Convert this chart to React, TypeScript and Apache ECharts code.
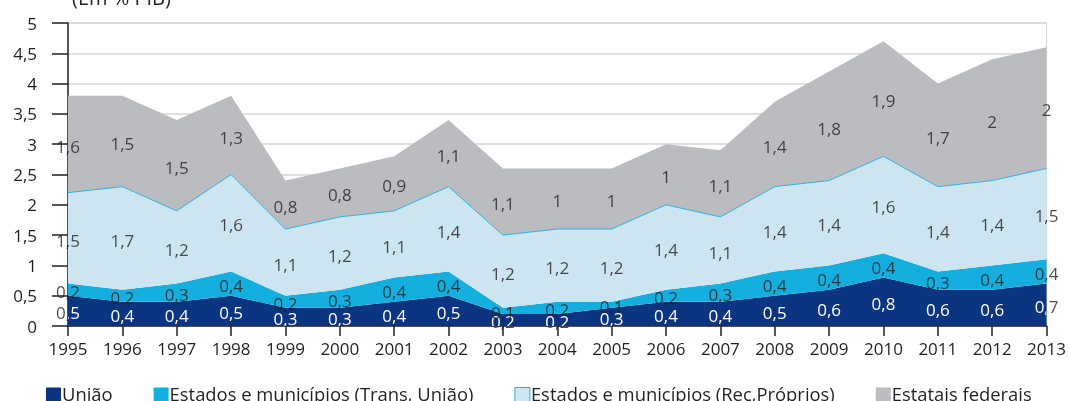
import React, { useEffect, useRef } from "react";
import * as echarts from "echarts";

const years = ["1995","1996","1997","1998","1999","2000","2001","2002","2003","2004","2005","2006","2007","2008","2009","2010","2011","2012","2013"];
const uniao = [0.5,0.4,0.4,0.5,0.3,0.3,0.4,0.5,0.2,0.2,0.3,0.4,0.4,0.5,0.6,0.8,0.6,0.6,0.7];
const trans = [0.2,0.2,0.3,0.4,0.2,0.3,0.4,0.4,0.1,0.2,0.1,0.2,0.3,0.4,0.4,0.4,0.3,0.4,0.4];
const rec = [1.5,1.7,1.2,1.6,1.1,1.2,1.1,1.4,1.2,1.2,1.2,1.4,1.1,1.4,1.4,1.6,1.4,1.4,1.5];
const estatais = [1.6,1.5,1.5,1.3,0.8,0.8,0.9,1.1,1.1,1,1,1,1.1,1.4,1.8,1.9,1.7,2,2];

const seriesNames = [
  "União",
  "Estados e municípios (Trans, União)",
  "Estados e municípios (Rec,Próprios)",
  "Estatais federais",
];
const seriesData = [uniao, trans, rec, estatais];
const fillColors = ["#0b3580", "#14afdf", "#cde5f1", "#bbbcbf"];
const unitLabel = "(Em % PIB)";

const fmt = (v: number) => String(Math.round(v * 10) / 10).replace(".", ",");
const FONT = "'Open Sans', 'Noto Sans', sans-serif";
const TEXT = "#231f20";
const LABEL_SIZE = 17;
// legend square sitting in the lower part of a taller item box
const LEGEND_ICON = "path://M0,0L0,0M0,4L15,4L15,19L0,19Z";

function midPoints(i: number) {
  return seriesData[i].map((v, j) => {
    let below = 0;
    for (let k = 0; k < i; k++) below += seriesData[k][j];
    return [j, below + v / 2, v];
  });
}

export default function App() {
  const ref = useRef<HTMLDivElement>(null);
  useEffect(() => {
    if (!ref.current) return;
    const chart = echarts.init(ref.current, null, { renderer: "svg" });

    const areaSeries = seriesData.map((d, i) => ({
      name: seriesNames[i],
      type: "line",
      stack: "total",
      data: d,
      color: fillColors[i],
      showSymbol: false,
      symbol: "none",
      lineStyle: i === 2 ? { width: 1, color: "#2fb0e0" } : { width: 0, opacity: 0 },
      areaStyle: { color: fillColors[i], opacity: 1 },
      z: 2,
    }));

    const makeLabelSeries = (i: number, color: string, z: number) => ({
      name: "lbl" + i + color,
      type: "scatter",
      symbolSize: 0,
      silent: true,
      z,
      data: midPoints(i),
      label: {
        show: true,
        position: "inside",
        offset: [0, 2],
        color,
        fontFamily: FONT,
        fontSize: LABEL_SIZE,
        formatter: (p: any) => fmt(p.value[2]),
      },
    });

    // União labels: dark beneath the areas (visible only outside the plot),
    // white on top, clipped to the plot rectangle.
    const uniaoDark = makeLabelSeries(0, TEXT, 1);
    const uniaoWhite = {
      name: "lbl0white",
      type: "custom",
      silent: true,
      z: 5,
      clip: true,
      data: midPoints(0),
      renderItem: (params: any, api: any) => {
        const p = api.coord([api.value(0), api.value(1)]);
        const cs = params.coordSys;
        return {
          type: "group",
          clipPath: {
            type: "rect",
            shape: { x: cs.x, y: cs.y, width: cs.width, height: cs.height },
          },
          children: [
            {
              type: "text",
              x: p[0],
              y: p[1] + 2,
              style: {
                text: fmt(api.value(2)),
                fill: "#ffffff",
                font: `${LABEL_SIZE}px ${FONT}`,
                align: "center",
                verticalAlign: "middle",
              },
            },
          ],
        };
      },
    };

    const otherLabels = [1, 2, 3].map((i) => makeLabelSeries(i, TEXT, 5));

    chart.setOption({
      animation: false,
      textStyle: { fontFamily: FONT },
      grid: {
        left: 68,
        right: 20,
        top: 23,
        bottom: 75,
        show: true,
        borderColor: "#d6d6d6",
        borderWidth: 1,
        backgroundColor: "transparent",
      },
      graphic: [
        {
          type: "text",
          left: 72,
          top: -13,
          style: {
            text: unitLabel,
            fill: TEXT,
            font: `20px ${FONT}`,
          },
        },
      ],
      legend: {
        left: 46,
        top: 383,
        icon: LEGEND_ICON,
        itemWidth: 15,
        itemHeight: 19,
        itemGap: 41,
        padding: 0,
        textStyle: { color: TEXT, fontSize: 18.4, fontFamily: FONT, padding: [0, 0, 0, -4] },
        data: seriesNames.map((n, i) => ({
          name: n,
          itemStyle:
            i === 2
              ? { color: fillColors[i], borderColor: "#2fb0e0", borderWidth: 1 }
              : { color: fillColors[i], borderWidth: 0 },
        })),
      },
      xAxis: {
        type: "category",
        data: years,
        boundaryGap: false,
        axisLine: { show: true, lineStyle: { color: TEXT, width: 1.5 } },
        axisTick: { show: true, length: 10, lineStyle: { color: TEXT, width: 1.5 } },
        axisLabel: { color: TEXT, fontSize: 17, fontFamily: FONT, margin: 14 },
        splitLine: { show: false },
      },
      yAxis: {
        type: "value",
        min: 0,
        max: 5,
        interval: 0.5,
        axisLine: { show: true, lineStyle: { color: TEXT, width: 1.5 } },
        axisTick: { show: true, length: 16, lineStyle: { color: TEXT, width: 1.5 } },
        axisLabel: {
          color: TEXT,
          fontSize: 17,
          fontFamily: FONT,
          margin: 31,
          formatter: (v: number) => fmt(v),
        },
        splitLine: { show: true, lineStyle: { color: "#d6d6d6", width: 1.5 } },
      },
      series: [...areaSeries, uniaoDark, uniaoWhite, ...otherLabels],
    });
    return () => chart.dispose();
  }, []);
  return (
    <div
      ref={ref}
      style={{ position: "fixed", left: 0, top: 0, width: 1069, height: 401 }}
    />
  );
}
